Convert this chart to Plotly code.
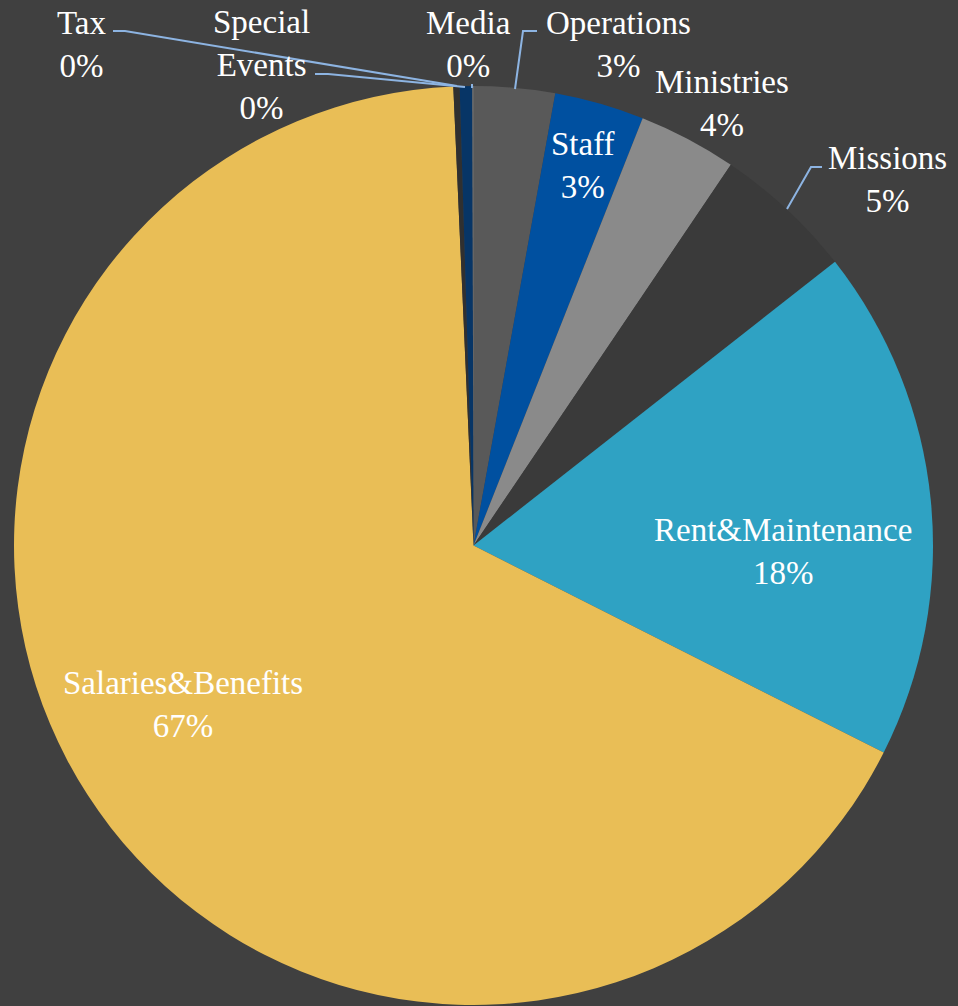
import plotly.graph_objects as go

# ---- data (percent of total, clockwise from 12 o'clock) ----
categories = ["Operations", "Staff", "Ministries", "Missions", "Rent&Maintenance",
              "Salaries&Benefits", "Tax", "Special Events", "Media"]
values = [2.85, 3.15, 3.46, 4.95, 18.03, 66.86, 0.22, 0.44, 0.04]
colors = ["#595959", "#0050A0", "#8A8A8A", "#3A3A3A", "#2FA2C3",
          "#E9BE56", "#303030", "#073566", "#7F7F7F"]

W, H = 958, 1006
BG = "#404040"
LEADER = "#8DB4E2"
FONT = "Liberation Serif, Times New Roman, serif"
FS = 33

def px(x):
    return x / W

def py(y):
    return 1 - y / H

fig = go.Figure(go.Pie(
    labels=categories,
    values=values,
    sort=False,
    direction="clockwise",
    rotation=0,
    marker=dict(colors=colors, line=dict(width=0)),
    textinfo="none",
    hoverinfo="label+percent",
    showlegend=False,
    domain=dict(x=[px(14), px(933)], y=[py(1005), py(86)]),
))

# label text: (text, center x px, center y px)
labels = [
    ("Tax<br>0%", 82, 45),
    ("Special<br>Events<br>0%", 261, 65),
    ("Media<br>0%", 468, 45),
    ("Operations<br>3%", 618, 45),
    ("Staff<br>3%", 583, 165),
    ("Ministries<br>4%", 722, 104),
    ("Missions<br>5%", 887, 179),
    ("Rent&Maintenance<br>18%", 783, 551),
    ("Salaries&Benefits<br>67%", 183, 704),
]
for text, x, y in labels:
    fig.add_annotation(x=px(x), y=py(y), xref="paper", yref="paper",
                       text=text, showarrow=False, xanchor="center", yanchor="middle",
                       font=dict(family=FONT, size=FS, color="#FFFFFF"))

# leader lines (pixel polylines)
leaders = [
    [(113, 31), (125, 31), (457, 86)],            # Tax
    [(315, 74), (328, 74), (465, 87)],            # Special Events
    [(472, 84), (472, 88)],                       # Media
    [(537, 31), (523, 31), (515, 89)],            # Operations
    [(822, 167), (811, 167), (787, 209)],         # Missions
]
for pts in leaders:
    path = "M " + " L ".join(f"{px(x):.5f},{py(y):.5f}" for x, y in pts)
    fig.add_shape(type="path", path=path, xref="paper", yref="paper",
                  line=dict(color=LEADER, width=2), layer="above")

fig.update_layout(
    width=W, height=H,
    margin=dict(l=0, r=0, t=0, b=0),
    paper_bgcolor=BG, plot_bgcolor=BG,
)

fig.write_html(
    "out.html",
    config={"displayModeBar": False},
    post_script="document.body.style.margin='0';document.body.style.padding='0';"
                "document.body.style.background='" + BG + "';"
                "document.documentElement.style.overflow='hidden';",
)
